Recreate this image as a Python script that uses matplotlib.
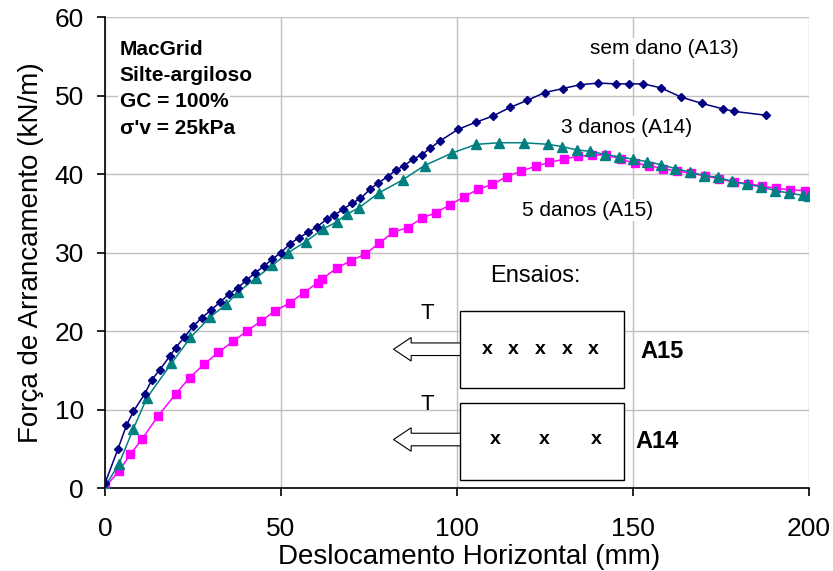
import numpy as np
import matplotlib.pyplot as plt
from matplotlib.patches import Rectangle, FancyArrow

plt.rcParams['font.family'] = ['Liberation Sans', 'DejaVu Sans']

# sem dano (A13)
x_a13 = [0, 3.7, 6.1, 8.1, 11.3, 13.3, 15.6, 18.4, 20.1, 22.5, 25.0, 27.5, 30.2, 32.7,
         35.2, 37.7, 40.2, 42.6, 45.2, 47.6, 50.0, 52.5, 55.1, 57.8, 60.2, 63.2, 65.2,
         67.6, 70.2, 72.6, 75.4, 77.7, 80.4, 82.6, 85.1, 87.5, 90.1, 92.4, 95.1, 100.3,
         105.3, 110.2, 115.1, 120.0, 125.0, 130.1, 135.1, 140.2, 145.3, 149.0, 153.0,
         157.9, 163.8, 169.7, 175.7, 178.7, 187.8]
y_a13 = [0.6, 5.0, 8.0, 9.8, 12.0, 13.8, 15.1, 16.8, 17.9, 19.2, 20.6, 21.7, 22.7, 23.7,
         24.7, 25.5, 26.5, 27.4, 28.3, 29.2, 30.0, 31.1, 31.9, 32.6, 33.3, 34.3, 34.8,
         35.5, 36.3, 36.9, 38.1, 38.9, 39.7, 40.5, 41.1, 41.9, 42.5, 43.3, 44.2, 45.7,
         46.6, 47.4, 48.5, 49.4, 50.4, 50.9, 51.4, 51.6, 51.5, 51.5, 51.5,
         51.0, 49.8, 49.0, 48.3, 48.0, 47.5]

# 3 danos (A14)
x_a14 = [0, 4.0, 8.0, 11.9, 18.9, 24.3, 29.9, 34.4, 37.9, 43.0, 47.6, 52.1, 57.0, 61.9,
         65.8, 68.7, 72.1, 77.8, 84.7, 90.8, 98.7, 105.5, 112.1, 119.0, 125.9, 130.0,
         134.0, 137.9, 142.2, 146.2, 150.1, 154.0, 158.1, 162.1, 166.1, 170.3, 174.2,
         178.1, 182.3, 186.4, 190.5, 194.3, 198.3, 200.0]
y_a14 = [0.2, 3.1, 7.5, 11.5, 15.9, 19.2, 21.8, 23.4, 25.0, 26.8, 28.4, 30.0, 31.4, 33.0,
         33.9, 34.9, 35.7, 37.6, 39.3, 41.1, 42.7, 43.8, 44.0, 44.0, 43.8, 43.5,
         43.1, 42.9, 42.5, 42.2, 41.9, 41.6, 41.2, 40.7, 40.3, 39.8, 39.6,
         39.1, 38.7, 38.4, 37.9, 37.6, 37.3, 37.2]

# 5 danos (A15)
x_a15 = [0, 4.0, 7.2, 10.6, 15.1, 20.1, 24.1, 28.2, 32.2, 36.4, 40.3, 44.4, 48.4, 52.5,
         56.5, 60.5, 61.8, 65.8, 69.9, 73.9, 77.9, 81.9, 86.0, 90.1, 94.0, 98.1, 102.0,
         106.1, 110.1, 114.2, 118.3, 122.4, 126.3, 130.4, 134.5, 138.5, 142.4, 146.5,
         150.6, 154.5, 158.5, 162.5, 166.6, 170.5, 174.5, 178.6, 182.6, 186.6, 190.6,
         194.6, 198.8]
y_a15 = [0.1, 2.2, 4.3, 6.3, 9.2, 12.0, 14.1, 15.8, 17.3, 18.7, 20.0, 21.3, 22.6, 23.6,
         24.9, 26.2, 26.7, 28.0, 29.0, 29.8, 31.2, 32.6, 33.2, 34.4, 35.1, 36.1, 37.1,
         38.1, 38.7, 39.7, 40.4, 41.0, 41.5, 41.9, 42.3, 42.4, 42.5, 41.9,
         41.4, 41.1, 40.7, 40.4, 40.1, 39.8, 39.4, 39.0, 38.8, 38.5, 38.2,
         38.0, 37.9]

info_lines = ["MacGrid", "Silte-argiloso", "GC = 100%", "σ'v = 25kPa"]

fig = plt.figure(figsize=(8.33, 5.71), dpi=100)
ax = fig.add_axes([0.126, 0.145, 0.845, 0.825])

ax.plot(x_a13, y_a13, color='#000080', marker='D', markersize=4.5, lw=1.1, zorder=4)
ax.plot(x_a15, y_a15, color='#FF00FF', marker='s', markersize=5.5, lw=1.1, zorder=3)
ax.plot(x_a14, y_a14, color='#008080', marker='^', markersize=6.5, lw=1.1, zorder=3)

ax.set_xlim(0, 200)
ax.set_ylim(0, 60)
ax.set_xticks([0, 50, 100, 150, 200])
ax.set_yticks(np.arange(0, 61, 10))
ax.grid(True, color='#c0c0c0', lw=1, zorder=0)
ax.set_axisbelow(True)
for s in ['top', 'right']:
    ax.spines[s].set_visible(False)
for s in ['left', 'bottom']:
    ax.spines[s].set_linewidth(1.2)
ax.tick_params(labelsize=19, length=6, width=1.2, direction='out')
ax.tick_params(axis='x', pad=15)
ax.tick_params(axis='y', pad=9)
ax.set_xlabel('Deslocamento Horizontal (mm)', fontsize=20, labelpad=2, x=0.517)
ax.set_ylabel('Força de Arrancamento (kN/m)', fontsize=20, labelpad=8)

wb = dict(facecolor='white', edgecolor='none', pad=1)
for i, line in enumerate(info_lines):
    ax.text(4.2, 55.2 - 3.35 * i, line, fontsize=15, fontweight='bold',
            va='baseline', ha='left', bbox=wb)
ax.text(159, 56.0, 'sem dano (A13)', fontsize=15, ha='center', va='center', bbox=wb)
ax.text(148.2, 46.0, '3 danos (A14)', fontsize=15, ha='center', va='center', bbox=wb)
ax.text(137.2, 35.4, '5 danos (A15)', fontsize=15, ha='center', va='center', bbox=wb)
ax.text(122.4, 27.0, 'Ensaios:', fontsize=17, ha='center', va='center', bbox=wb)

# diagram of test specimens
for (y0, y1, ty, marks, lab, lx) in [(12.8, 22.6, 17.7, [108.5, 116.0, 123.7, 131.3, 138.8], 'A15', 158.4),
                                    (1.1, 10.9, 6.2, [111.0, 124.9, 139.5], 'A14', 157.0)]:
    ax.add_patch(Rectangle((101, y0), 46.6, y1 - y0, facecolor='white',
                           edgecolor='black', lw=1, zorder=5))
    ax.add_patch(FancyArrow(101, ty, -19, 0, width=1.6, head_width=3.0,
                            head_length=5, length_includes_head=True,
                            facecolor='white', edgecolor='black', lw=0.8, zorder=5))
    ax.text(91.5, y1 - 0.3, 'T', fontsize=16, ha='center', va='center', zorder=6)
    for mx in marks:
        ax.text(mx, ty, 'x', fontsize=14, fontweight='bold', ha='center', va='center', zorder=6)
    ax.text(lx, ty - 0.3, lab, fontsize=17, fontweight='bold', ha='center', va='center', zorder=6)

fig.savefig('out.png', dpi=100)
